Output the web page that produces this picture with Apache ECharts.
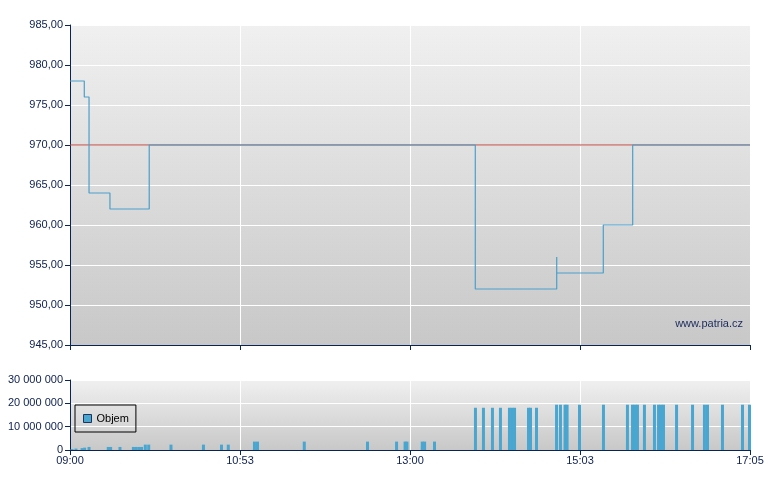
<!DOCTYPE html>
<html>
<head>
<meta charset="utf-8">
<script src="https://cdn.jsdelivr.net/npm/echarts@6/dist/echarts.min.js"></script>
<style>
html,body{margin:0;padding:0;background:#fff;}
#c{width:780px;height:490px;}
</style>
</head>
<body>
<div id="c"></div>
<script>
// X axis: session position, 0..4 (tick index), labelled with times
const timeLabels = ['09:00', '10:53', '13:00', '15:03', '17:05'];
const priceTicks = [945, 950, 955, 960, 965, 970, 975, 980, 985];
const refPrice = 970;
// price steps: [position, price]
const pricePos = [0, 0.084, 0.112, 0.235, 0.466, 2.384, 2.863, 2.863, 3.137, 3.310, 4];
const priceVal = [978, 976, 964, 962, 970, 952, 956, 954, 960, 970, 970];
// volume bars: [position], [volume]
const volPos = [0.012, 0.035, 0.071, 0.086, 0.112, 0.225, 0.239, 0.294, 0.373, 0.389, 0.405, 0.421,
  0.443, 0.463, 0.594, 0.785, 0.891, 0.931, 1.085, 1.103, 1.378, 1.750, 1.921, 1.971, 1.982, 2.072, 2.086, 2.144,
  2.385, 2.432, 2.485, 2.532, 2.585, 2.600, 2.615, 2.697, 2.709, 2.744,
  2.862, 2.885, 2.912, 2.924, 2.997, 3.138, 3.279, 3.309, 3.324, 3.338, 3.379, 3.438, 3.462, 3.476, 3.491,
  3.568, 3.662, 3.732, 3.750, 3.838, 3.956, 3.997];
const volVal = [400000, 600000, 800000, 1000000, 1300000, 1300000, 1300000, 1300000, 1300000, 1300000, 1300000, 1300000,
  2300000, 2300000, 2300000, 2300000, 2300000, 2300000, 3600000, 3600000, 3600000, 3600000, 3600000, 3600000, 3600000, 3600000, 3600000, 3600000,
  18100000, 18100000, 18100000, 18100000, 18100000, 18100000, 18100000, 18100000, 18100000, 18100000,
  19400000, 19400000, 19400000, 19400000, 19400000, 19400000, 19400000, 19400000, 19400000, 19400000, 19400000, 19400000, 19400000, 19400000, 19400000,
  19400000, 19400000, 19400000, 19400000, 19400000, 19400000, 19400000];
const volTicks = [0, 10000000, 20000000, 30000000];

const navy = '#0b2457';
const txt = '#0d1f4f';
const font = 'Liberation Sans, Arial, sans-serif';
const bg = {type: 'linear', x: 0, y: 0, x2: 0, y2: 1,
  colorStops: [{offset: 0, color: '#f0f0f0'}, {offset: 1, color: '#c8c8c8'}]};

const chart = echarts.init(document.getElementById('c'), null, {renderer: 'canvas'});
const fmtPrice = v => v.toFixed(2).replace('.', ',');
const fmtVol = v => String(v).replace(/\B(?=(\d{3})+(?!\d))/g, ' ');

chart.setOption({
  animation: false,
  backgroundColor: '#ffffff',
  grid: [
    {left: 70, top: 25, width: 680, height: 320, show: true, backgroundColor: bg, borderWidth: 0},
    {left: 70, top: 380, width: 680, height: 70, show: true, backgroundColor: bg, borderWidth: 0}
  ],
  legend: {
    data: ['Objem'], left: 75, top: 405, orient: 'vertical',
    padding: [8, 7, 8, 8], borderColor: '#000', borderWidth: 1, backgroundColor: 'transparent',
    itemWidth: 8, itemHeight: 8, icon: 'rect',
    itemStyle: {borderColor: '#1b3560', borderWidth: 1},
    textStyle: {color: '#000', fontSize: 11, fontFamily: font}
  },
  xAxis: [
    {gridIndex: 0, type: 'value', min: 0, max: 4, interval: 1,
      axisLine: {show: true, lineStyle: {color: navy, width: 1}},
      axisTick: {show: true, length: 5, lineStyle: {color: navy}},
      axisLabel: {show: false},
      splitLine: {show: true, lineStyle: {color: '#ffffff', width: 1}}},
    {gridIndex: 1, type: 'value', min: 0, max: 4, interval: 1,
      axisLine: {show: true, lineStyle: {color: navy, width: 1}},
      axisTick: {show: true, length: 5, lineStyle: {color: navy}},
      axisLabel: {show: true, color: txt, fontSize: 11, fontFamily: font, margin: 5,
        formatter: v => timeLabels[Math.round(v)]},
      splitLine: {show: true, lineStyle: {color: '#ffffff', width: 1}}}
  ],
  yAxis: [
    {gridIndex: 0, type: 'value', min: priceTicks[0], max: priceTicks[priceTicks.length - 1], interval: 5,
      axisLine: {show: true, lineStyle: {color: navy, width: 1}},
      axisTick: {show: true, length: 5, lineStyle: {color: navy}},
      axisLabel: {color: txt, fontSize: 11, fontFamily: font, margin: 7, formatter: fmtPrice},
      splitLine: {show: true, lineStyle: {color: '#ffffff', width: 1}}},
    {gridIndex: 1, type: 'value', min: volTicks[0], max: volTicks[volTicks.length - 1], interval: 10000000,
      axisLine: {show: true, lineStyle: {color: navy, width: 1}},
      axisTick: {show: true, length: 5, lineStyle: {color: navy}},
      axisLabel: {color: txt, fontSize: 11, fontFamily: font, margin: 7, formatter: fmtVol},
      splitLine: {show: true, lineStyle: {color: '#ffffff', width: 1}}}
  ],
  series: [
    {name: 'ref', type: 'line', xAxisIndex: 0, yAxisIndex: 0, z: 2,
      data: [[0, refPrice], [4, refPrice]], symbol: 'none', silent: true,
      lineStyle: {color: '#b8403a', width: 1}},
    {name: 'Cena', type: 'line', xAxisIndex: 0, yAxisIndex: 0, z: 3, step: 'end',
      data: pricePos.map((p, i) => [p, priceVal[i]]), symbol: 'none',
      lineStyle: {color: '#4a9fc9', width: 1.2}},
    {name: 'Objem', type: 'bar', xAxisIndex: 1, yAxisIndex: 1, barWidth: 3,
      data: volPos.map((p, i) => [p, volVal[i]]),
      itemStyle: {color: '#48a6d0'}}
  ],
  graphic: [
    {type: 'text', right: 37, top: 318,
      style: {text: 'www.patria.cz', fill: '#1a2b5e', font: '11px ' + font}}
  ]
});
</script>
</body>
</html>
